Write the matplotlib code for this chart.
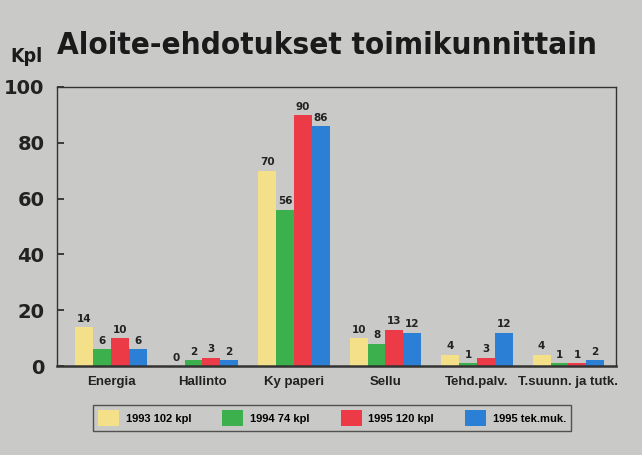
import matplotlib
matplotlib.use('Agg')
from matplotlib import pyplot as plt
from matplotlib.patches import Patch
import numpy as np

categories = ['Energia', 'Hallinto', 'Ky paperi', 'Sellu', 'Tehd.palv.', 'T.suunn. ja tutk.']
series_names = ['1993 102 kpl', '1994 74 kpl', '1995 120 kpl', '1995 tek.muk.']
v1993 = [14, 0, 70, 10, 4, 4]
v1994 = [6, 2, 56, 8, 1, 1]
v1995 = [10, 3, 90, 13, 3, 1]
v1995_tek = [6, 2, 86, 12, 12, 2]
colors = ['#f5e08a', '#3bb04c', '#ec3b47', '#2b80d6']
y_ticks = [0, 20, 40, 60, 80, 100]

bg = '#c9c9c7'

fig = plt.figure(figsize=(6.42, 4.55), dpi=100, facecolor=bg)
ax = fig.add_axes([57/642, 1 - 366/455, (616-57)/642, (366-87)/455])
ax.set_facecolor(bg)

x = np.arange(len(categories))
w = 0.195
all_series = [v1993, v1994, v1995, v1995_tek]
for i, vals in enumerate(all_series):
    pos = x + (i - 1.5) * w
    ax.bar(pos, vals, width=w, color=colors[i], edgecolor='none', zorder=2)
    for p, v in zip(pos, vals):
        ax.text(p, v + 1.2, str(v), ha='center', va='bottom', fontsize=7.5,
                fontweight='bold', color='#222222', family='DejaVu Sans')

ax.set_xlim(-0.59, 5.52)
ax.set_ylim(0, 100)
ax.set_yticks(y_ticks)
ax.set_yticklabels([str(t) for t in y_ticks], fontsize=14, fontweight='bold',
                   family='DejaVu Sans', color='#111111')
ax.tick_params(axis='y', direction='in', length=5, width=1.2, pad=9, colors='#222222')
ax.set_xticks(x)
ax.set_xticklabels(categories, fontsize=9.5, fontweight='bold', family='Liberation Sans',
                   color='#222222')
ax.tick_params(axis='x', length=0, pad=7)
for s in ax.spines.values():
    s.set_color('#333333')
    s.set_linewidth(1.0)
ax.spines['bottom'].set_linewidth(1.8)

fig.text(327/642, 1 - 45/455, 'Aloite-ehdotukset toimikunnittain', ha='center', va='center',
         fontsize=22.5, fontweight='bold', fontstretch='condensed', family='DejaVu Sans',
         color='#1a1a1a')
fig.text(10/642, 1 - 57/455, 'Kpl', ha='left', va='center', fontsize=14,
         fontweight='bold', fontstretch='condensed', family='DejaVu Sans', color='#1a1a1a')

handles = [Patch(facecolor=c, edgecolor='none') for c in colors]
leg = fig.legend(handles, series_names, loc='center', bbox_to_anchor=(332/642, 1 - 418/455),
                 ncol=4, frameon=True, fancybox=False, facecolor=bg, edgecolor='#333333',
                 handlelength=1.9, handleheight=1.9, columnspacing=2.8, handletextpad=0.6,
                 prop={'size': 8, 'weight': 'bold', 'family': 'Liberation Sans'})
leg.get_frame().set_linewidth(1.0)

plt.savefig('out.png', dpi=100, facecolor=bg)
